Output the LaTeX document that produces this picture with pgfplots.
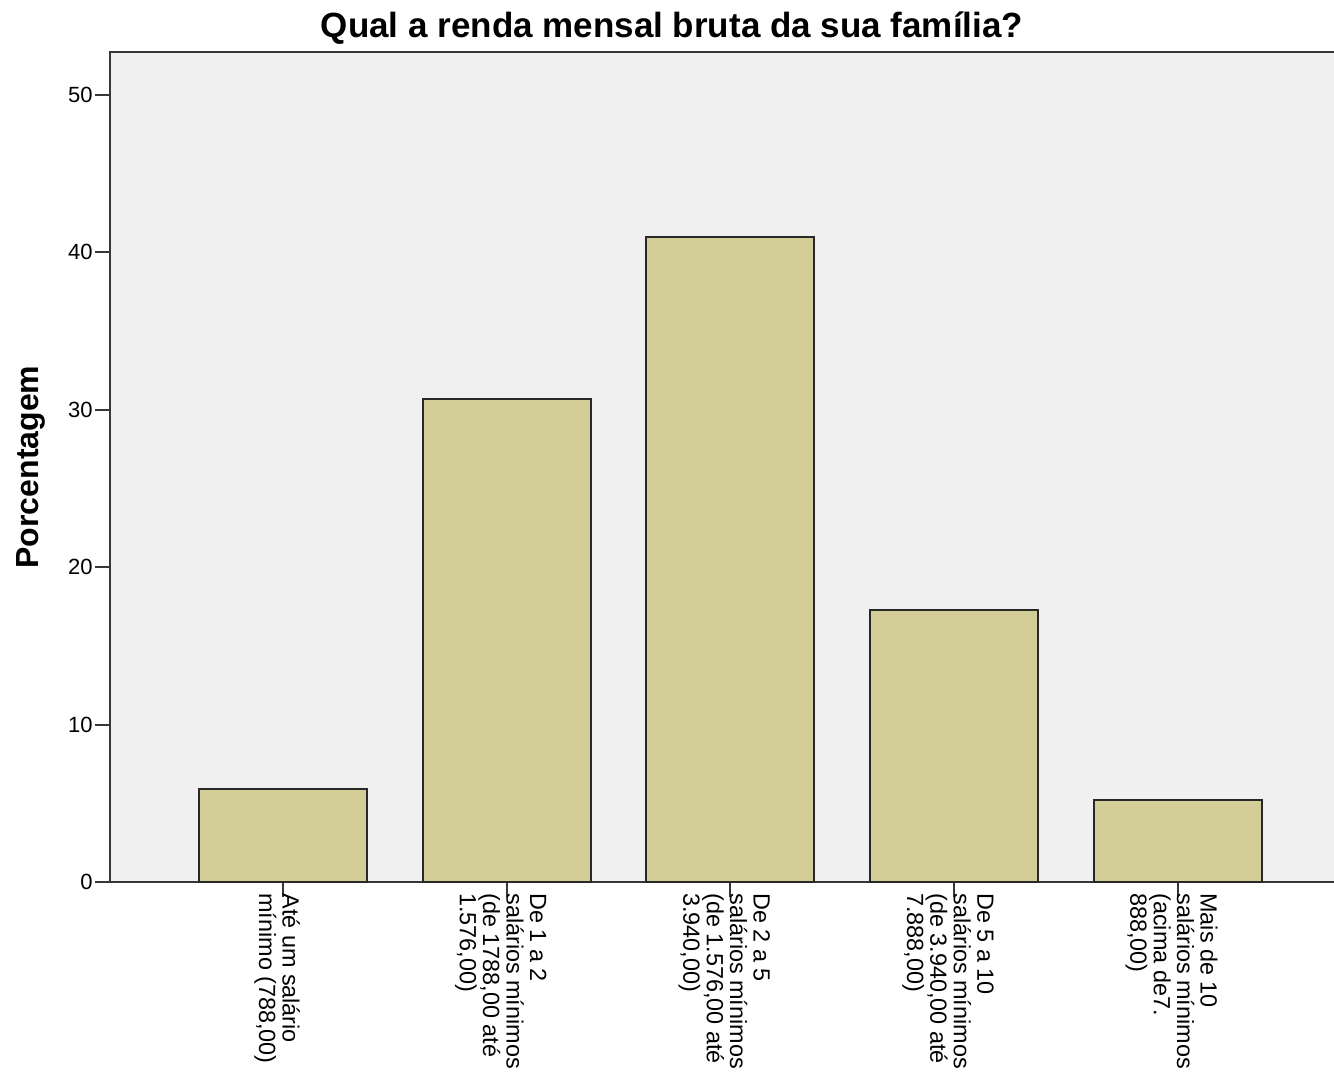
\documentclass[border=0pt]{standalone}
\usepackage{fontspec}
\setmainfont{Liberation Sans}
\usepackage{pgfplots}
\pgfplotsset{compat=1.18}
\definecolor{barfill}{RGB}{211,206,151}
\definecolor{plotbg}{RGB}{240,240,240}
\definecolor{axisgray}{RGB}{55,55,55}
\definecolor{baredge}{RGB}{40,40,40}
\begin{document}
\begin{tikzpicture}
\useasboundingbox (-55pt,-95pt) rectangle (612pt,441pt);
\begin{axis}[
  at={(0,0)}, anchor=south west,
  scale only axis, width=623.2pt, height=415pt,
  xmin=-0.774, xmax=4.80, ymin=0, ymax=52.73,
  axis background/.style={fill=plotbg},
  axis line style={axisgray, line width=1pt},
  tick style={axisgray, line width=1pt},
  tick align=outside, major tick length=7.5pt,
  xtick pos=left, ytick pos=left,
  ytick={0,10,20,30,40,50},
  xtick={0,1,2,3,4},
  xticklabels={
    {Até um salário\\mínimo (788,00)},
    {De 1 a 2\\salários mínimos\\(de 1788,00 até\\1.576,00)},
    {De 2 a 5\\salários mínimos\\(de 1.576,00 até\\3.940,00)},
    {De 5 a 10\\salários mínimos\\(de 3.940,00 até\\7.888,00)},
    {Mais de 10\\salários mínimos\\(acima de7.\\888,00)}},
  xticklabel style={xshift=-3pt, yshift=2pt, rotate=-90, anchor=west, align=left, inner sep=0pt,
    font=\fontsize{11.7}{11.7}\selectfont},
  yticklabel style={font=\fontsize{11}{13}\selectfont, inner sep=1pt},
  /pgf/number format/assume math mode=true,
  ylabel={Porcentagem},
  ylabel style={font=\fontsize{16}{18}\selectfont\bfseries, at={(axis description cs:-0.0634,0.5)}, anchor=center},
]
\addplot[ybar, bar width=84pt, fill=barfill, draw=baredge, line width=1pt]
  coordinates {(0,5.9) (1,30.7) (2,41.0) (3,17.3) (4,5.2)};
\end{axis}
\node[font=\fontsize{17.5}{20}\selectfont\bfseries] at (281pt,427pt) {Qual a renda mensal bruta da sua família?};
\end{tikzpicture}
\end{document}
